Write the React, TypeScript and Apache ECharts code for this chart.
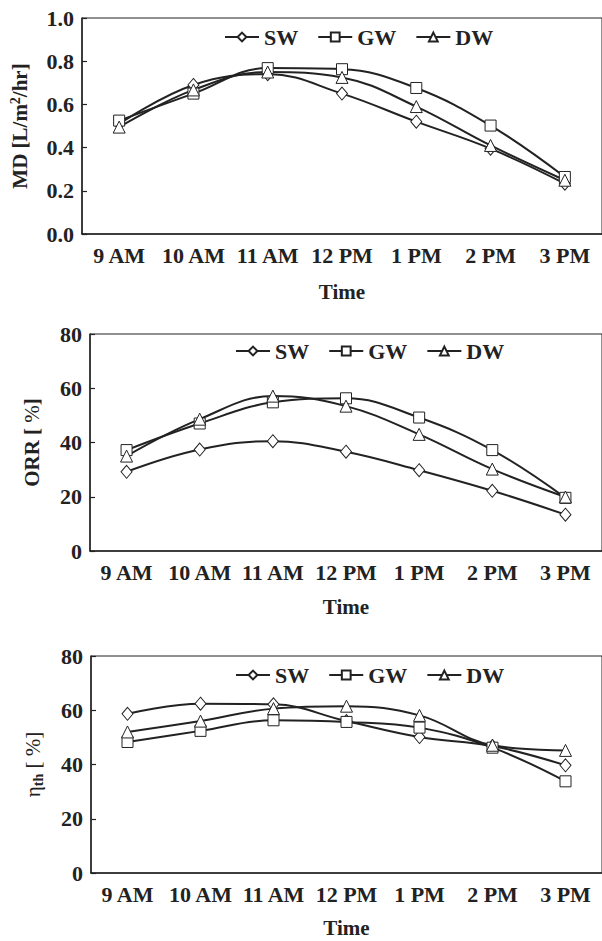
import React, { useEffect, useRef } from "react";
import * as echarts from "echarts";

const categories = ["9 AM", "10 AM", "11 AM", "12 PM", "1 PM", "2 PM", "3 PM"];
const seriesNames = ["SW", "GW", "DW"];

const mdSW = [0.51, 0.69, 0.74, 0.65, 0.52, 0.395, 0.233];
const mdGW = [0.525, 0.65, 0.768, 0.763, 0.676, 0.502, 0.264];
const mdDW = [0.495, 0.667, 0.75, 0.725, 0.59, 0.41, 0.249];

const orrSW = [29.2, 37.4, 40.5, 36.6, 29.8, 22.2, 13.4];
const orrGW = [37.2, 47.0, 54.8, 56.3, 49.2, 37.2, 19.6];
const orrDW = [35.0, 48.6, 57.1, 53.4, 43.0, 30.2, 19.9];

const effSW = [58.7, 62.4, 62.2, 56.0, 50.1, 46.8, 39.7];
const effGW = [48.3, 52.4, 56.3, 55.7, 53.6, 46.2, 33.8];
const effDW = [52.0, 56.0, 60.6, 61.5, 58.1, 47.1, 45.2];

const mdTicks = [0, 0.2, 0.4, 0.6, 0.8, 1.0];
const pctTicks = [0, 20, 40, 60, 80];

const FONT = "'Liberation Serif', 'Times New Roman', serif";
const INK = "#222";

export default function App() {
  const ref = useRef<HTMLDivElement>(null);

  useEffect(() => {
    if (!ref.current) return;
    const chart = echarts.init(ref.current, null, { renderer: "svg" });

    const panels = [
      {
        grid: { left: 79, top: 18, width: 527, height: 216 },
        ticks: mdTicks,
        fmt: (v: number) => v.toFixed(1),
        name: "{b|MD [L/m}{sup|2}{b|/hr]}",
        nameGap: 50,
        legend: { left: 224, top: 26 },
        timeGap: 47,
        data: [mdSW, mdGW, mdDW],
      },
      {
        grid: { left: 90, top: 334, width: 516, height: 217 },
        ticks: pctTicks,
        fmt: (v: number) => String(v),
        name: "{b|ORR [ }{r|%}{b|]}",
        nameGap: 46,
        legend: { left: 235, top: 340 },
        timeGap: 45,
        data: [orrSW, orrGW, orrDW],
      },
      {
        grid: { left: 91, top: 656, width: 516, height: 217 },
        ticks: pctTicks,
        fmt: (v: number) => String(v),
        name: "{r|η}{sub|th}{r| [ %]}",
        nameGap: 46,
        legend: { left: 235, top: 664 },
        timeGap: 44,
        data: [effSW, effGW, effDW],
      },
    ];

    const symbols: any[] = [
      { symbol: "diamond", size: [11, 13] },
      { symbol: "rect", size: 11 },
      { symbol: "triangle", size: 12 },
    ];

    const grids: any[] = [];
    const xAxes: any[] = [];
    const yAxes: any[] = [];
    const legends: any[] = [];
    const series: any[] = [];

    panels.forEach((p, i) => {
      grids.push({
        ...p.grid,
        show: true,
        borderColor: INK,
        borderWidth: 1,
        backgroundColor: "transparent",
        containLabel: false,
      });
      xAxes.push({
        type: "category",
        gridIndex: i,
        data: categories,
        boundaryGap: true,
        axisLine: { lineStyle: { color: INK, width: 1.5 } },
        axisTick: { inside: true, length: 5, lineStyle: { color: INK, width: 1.2 } },
        axisLabel: {
          color: INK,
          fontFamily: FONT,
          fontWeight: "bold",
          fontSize: 22,
          margin: 10,
          interval: 0,
        },
        name: "Time",
        nameLocation: "middle",
        nameGap: p.timeGap,
        nameTextStyle: { color: INK, fontFamily: FONT, fontWeight: "bold", fontSize: 21 },
        splitLine: { show: false },
      });
      const max = p.ticks[p.ticks.length - 1];
      const interval = p.ticks[1] - p.ticks[0];
      yAxes.push({
        type: "value",
        gridIndex: i,
        min: p.ticks[0],
        max: max,
        interval: interval,
        axisLine: { show: true, lineStyle: { color: INK, width: 1.5 } },
        axisTick: { show: true, inside: true, length: 5, lineStyle: { color: INK, width: 1.2 } },
        axisLabel: {
          color: INK,
          fontFamily: FONT,
          fontWeight: "bold",
          fontSize: 22,
          margin: 8,
          formatter: p.fmt,
        },
        splitLine: { show: false },
        name: p.name,
        nameLocation: "middle",
        nameRotate: 90,
        nameGap: p.nameGap,
        nameTextStyle: {
          color: INK,
          fontFamily: FONT,
          fontSize: 21,
          rich: {
            b: { fontFamily: FONT, fontWeight: "bold", fontSize: 21, color: INK, lineHeight: 24 },
            r: { fontFamily: FONT, fontWeight: "normal", fontSize: 21, color: INK, lineHeight: 24 },
            sup: {
              fontFamily: FONT,
              fontWeight: "bold",
              fontSize: 14,
              color: INK,
              verticalAlign: "top",
              lineHeight: 24,
            },
            sub: {
              fontFamily: FONT,
              fontWeight: "bold",
              fontSize: 14,
              color: INK,
              verticalAlign: "bottom",
              lineHeight: 18,
              padding: [8, 0, 0, 0],
            },
          },
        },
      });
      legends.push({
        data: seriesNames,
        left: p.legend.left,
        top: p.legend.top,
        orient: "horizontal",
        padding: 0,
        itemWidth: 34,
        itemHeight: 11,
        itemGap: 19,
        selectedMode: false,
        textStyle: { color: INK, fontFamily: FONT, fontWeight: "bold", fontSize: 22 },
      });
      p.data.forEach((vals, k) => {
        series.push({
          name: seriesNames[k],
          type: "line",
          xAxisIndex: i,
          yAxisIndex: i,
          data: vals,
          smooth: 0.4,
          symbol: symbols[k].symbol,
          symbolSize: symbols[k].size,
          showSymbol: true,
          lineStyle: { color: INK, width: 2 },
          itemStyle: { color: "#fff", borderColor: INK, borderWidth: 1 },
          emphasis: { disabled: true },
        });
      });
    });

    chart.setOption({
      animation: false,
      backgroundColor: "#fff",
      textStyle: { fontFamily: FONT },
      grid: grids,
      xAxis: xAxes,
      yAxis: yAxes,
      legend: legends,
      series: series,
    });

    return () => chart.dispose();
  }, []);

  return (
    <div
      ref={ref}
      style={{ position: "fixed", left: 0, top: 0, width: 602, height: 941, background: "#fff" }}
    />
  );
}
